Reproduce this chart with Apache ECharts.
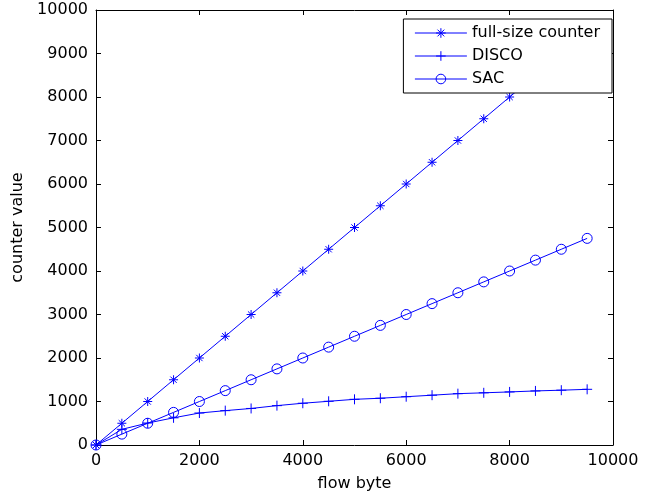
<!DOCTYPE html>
<html>
<head>
<meta charset="utf-8">
<script src="https://cdn.jsdelivr.net/npm/echarts@6/dist/echarts.min.js"></script>
<style>
  html, body { margin: 0; padding: 0; background: #fff; }
  #chart { width: 656px; height: 497px; }
</style>
</head>
<body>
<div id="chart"></div>
<script>
var flowBytes = [0, 500, 1000, 1500, 2000, 2500, 3000, 3500, 4000, 4500, 5000,
                 5500, 6000, 6500, 7000, 7500, 8000, 8500, 9000, 9500];
var fullSize = [0, 500, 1000, 1500, 2000, 2500, 3000, 3500, 4000, 4500, 5000,
                5500, 6000, 6500, 7000, 7500, 8000, 8500, 9000, 9500];
var disco = [0, 360, 505, 625, 735, 790, 840, 905, 960, 1005, 1050,
             1075, 1110, 1145, 1180, 1200, 1220, 1243, 1260, 1280];
var sac = [0, 250, 500, 750, 1000, 1250, 1500, 1750, 2000, 2250, 2500,
           2750, 3000, 3250, 3500, 3750, 4000, 4250, 4500, 4750];
var seriesNames = ['full-size counter', 'DISCO', 'SAC'];

var FONT = 'DejaVu Sans';
var BLUE = '#0000ff';
var STAR = 'path://M0,5L10,5M5,0L5,10M1.5,1.5L8.5,8.5M8.5,1.5L1.5,8.5';
var PLUS = 'path://M0,5L10,5M5,0L5,10';

function pairs(ys) {
  return flowBytes.map(function (x, i) { return [x, ys[i]]; });
}

function mkSeries(name, ys, symbol, size) {
  return {
    name: name,
    type: 'line',
    data: pairs(ys),
    symbol: symbol,
    symbolSize: size,
    showSymbol: true,
    lineStyle: { color: BLUE, width: 1 },
    itemStyle: { color: 'none', borderColor: BLUE, borderWidth: 1 }
  };
}

function plain(v) { return String(v); }

var boxAxis = {
  axisLine: { show: true, onZero: false, lineStyle: { color: '#000', width: 1 } },
  axisTick: { show: true, inside: true, length: 5, lineStyle: { color: '#000' } },
  splitLine: { show: false }
};

var chart = echarts.init(document.getElementById('chart'));
chart.setOption({
  animation: false,
  backgroundColor: '#fff',
  grid: { left: 96, right: 43, top: 10, bottom: 51 },
  legend: {
    orient: 'vertical',
    right: 44,
    top: 19,
    data: seriesNames,
    itemWidth: 52,
    itemHeight: 12,
    itemGap: 7,
    padding: [6, 12, 6, 11],
    backgroundColor: '#fff',
    borderColor: '#000',
    borderWidth: 1,
    borderRadius: 0,
    lineStyle: { width: 1 },
    itemStyle: { borderWidth: 1 },
    textStyle: { fontFamily: FONT, fontSize: 16, color: '#000', lineHeight: 16 }
  },
  xAxis: [
    Object.assign({
      type: 'value', min: 0, max: 10000, interval: 2000,
      name: 'flow byte', nameLocation: 'middle', nameGap: 31,
      nameTextStyle: { fontFamily: FONT, fontSize: 16, color: '#000' },
      axisLabel: { fontFamily: FONT, fontSize: 16, color: '#000', margin: 8, formatter: plain }
    }, boxAxis),
    Object.assign({
      type: 'value', min: 0, max: 10000, interval: 2000, position: 'top',
      axisLabel: { show: false }
    }, boxAxis)
  ],
  yAxis: [
    Object.assign({
      type: 'value', min: 0, max: 10000, interval: 1000,
      name: 'counter value', nameLocation: 'middle', nameGap: 68,
      nameTextStyle: { fontFamily: FONT, fontSize: 16, color: '#000' },
      axisLabel: { fontFamily: FONT, fontSize: 16, color: '#000', margin: 8, formatter: plain }
    }, boxAxis),
    Object.assign({
      type: 'value', min: 0, max: 10000, interval: 1000, position: 'right',
      axisLabel: { show: false }
    }, boxAxis)
  ],
  series: [
    mkSeries(seriesNames[0], fullSize, STAR, 9),
    mkSeries(seriesNames[1], disco, PLUS, 10),
    mkSeries(seriesNames[2], sac, 'circle', 10)
  ]
});
</script>
</body>
</html>
